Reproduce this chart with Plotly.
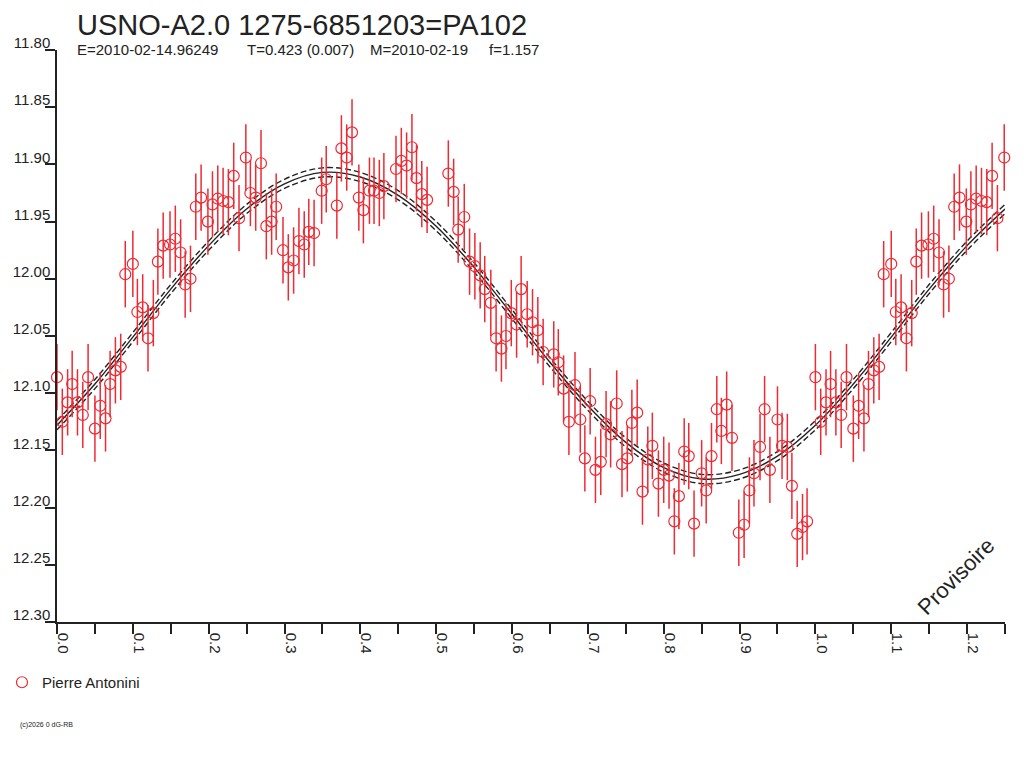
import plotly.graph_objects as go

# observed phase / magnitude (one cycle), error bars are all about the same size
phase = [0.000, 0.007, 0.014, 0.020, 0.027, 0.034, 0.041, 0.050, 0.057, 0.064,
         0.070, 0.077, 0.084, 0.090, 0.100, 0.106, 0.113, 0.120, 0.127, 0.133,
         0.140, 0.149, 0.156, 0.163, 0.169, 0.176, 0.183, 0.190, 0.199, 0.205,
         0.212, 0.219, 0.226, 0.233, 0.240, 0.249, 0.255, 0.262, 0.269, 0.276,
         0.283, 0.289, 0.298, 0.305, 0.312, 0.319, 0.326, 0.332, 0.339, 0.349,
         0.355, 0.369, 0.375, 0.382, 0.389, 0.398, 0.404, 0.412, 0.418, 0.425,
         0.431, 0.447, 0.454, 0.461, 0.468, 0.474, 0.481, 0.488, 0.516, 0.523,
         0.529, 0.537, 0.544, 0.551, 0.558, 0.564, 0.572, 0.579, 0.586, 0.592,
         0.599, 0.606, 0.612, 0.620, 0.627, 0.634, 0.641, 0.655, 0.661, 0.668,
         0.675, 0.683, 0.690, 0.696, 0.703, 0.710, 0.717, 0.724, 0.730, 0.738,
         0.745, 0.752, 0.758, 0.765, 0.772, 0.779, 0.785, 0.793, 0.800, 0.807,
         0.814, 0.820, 0.827, 0.833, 0.840, 0.850, 0.856, 0.863, 0.870, 0.876,
         0.883, 0.890, 0.899, 0.906, 0.913, 0.919, 0.927, 0.933, 0.940, 0.950,
         0.956, 0.963, 0.969, 0.976, 0.983, 0.989]
mag = [12.086, 12.125, 12.108, 12.092, 12.108, 12.119, 12.086, 12.131, 12.111, 12.122,
       12.092, 12.080, 12.077, 11.996, 11.987, 12.029, 12.025, 12.052, 12.030, 11.985,
       11.971, 11.970, 11.965, 11.977, 12.005, 12.000, 11.937, 11.929, 11.950, 11.935,
       11.930, 11.932, 11.933, 11.910, 11.947, 11.894, 11.925, 11.929, 11.899, 11.954,
       11.950, 11.937, 11.975, 11.990, 11.984, 11.967, 11.970, 11.959, 11.960, 11.923,
       11.913, 11.936, 11.886, 11.894, 11.872, 11.929, 11.940, 11.923, 11.923, 11.925,
       11.919, 11.904, 11.897, 11.901, 11.885, 11.912, 11.926, 11.931, 11.908, 11.924,
       11.957, 11.946, 11.985, 11.989, 11.997, 12.009, 12.021, 12.052, 12.061, 12.050,
       12.030, 12.040, 12.009, 12.031, 12.038, 12.045, 12.064, 12.066, 12.073, 12.096,
       12.125, 12.093, 12.123, 12.157, 12.107, 12.167, 12.160, 12.127, 12.136, 12.109,
       12.162, 12.157, 12.126, 12.117, 12.186, 12.158, 12.146, 12.179, 12.167, 12.172,
       12.212, 12.190, 12.151, 12.155, 12.214, 12.170, 12.185, 12.155, 12.114, 12.133,
       12.110, 12.139, 12.222, 12.215, 12.185, 12.170, 12.147, 12.114, 12.167, 12.123,
       12.146, 12.147, 12.181, 12.223, 12.217, 12.212]
mag_err = 0.029

# fitted sine and its band, read every 0.05 in phase
fit_phase = [0.00, 0.05, 0.10, 0.15, 0.20, 0.25, 0.30, 0.35, 0.40, 0.45, 0.50, 0.55, 0.60,
             0.65, 0.70, 0.75, 0.80, 0.85, 0.90, 0.95, 1.00, 1.05, 1.10, 1.15, 1.20, 1.25]
fit_mag = [12.128, 12.092, 12.051, 12.009, 11.971, 11.939, 11.917, 11.907, 11.911, 11.927,
           11.954, 11.990, 12.031, 12.073, 12.111, 12.143, 12.165, 12.175, 12.171, 12.155,
           12.128, 12.092, 12.051, 12.009, 11.971, 11.939]
fit_upper = [12.124, 12.088, 12.047, 12.005, 11.967, 11.935, 11.913, 11.903, 11.907, 11.923,
             11.950, 11.986, 12.027, 12.069, 12.107, 12.139, 12.161, 12.171, 12.167, 12.151,
             12.124, 12.088, 12.047, 12.005, 11.967, 11.935]
fit_lower = [12.132, 12.096, 12.055, 12.013, 11.975, 11.943, 11.921, 11.911, 11.915, 11.931,
             11.958, 11.994, 12.035, 12.077, 12.115, 12.147, 12.169, 12.179, 12.175, 12.159,
             12.132, 12.096, 12.055, 12.013, 11.975, 11.943]

TITLE = "USNO-A2.0 1275-6851203=PA102"
INFO = [("E=2010-02-14.96249", 75), ("T=0.423 (0.007)", 245),
        ("M=2010-02-19", 368), ("f=1.157", 487)]
OBSERVER = "Pierre Antonini"

RED = "#ee2a33"
INK = "#222222"
FONT = "Liberation Sans"

# plot box on the page (the page puts an 8px body margin round the figure)
PLOT_L, PLOT_W = 57, 948
PLOT_B, PLOT_H = 622, 572


def repeat_cycle(ph, mg, cut=0.25):
    # phase plot shows the first quarter again after phase 1
    xs = list(ph) + [p + 1 for p in ph if p < cut]
    ys = list(mg) + [m for p, m in zip(ph, mg) if p < cut]
    return xs, ys


def px_x(px):
    return (px - PLOT_L) / PLOT_W


def px_y(py):
    return (PLOT_B - py) / PLOT_H


def create_figure():
    fig = go.Figure()
    fig.update_layout(width=1024, height=768, paper_bgcolor="white", plot_bgcolor="white",
                      margin=dict(l=49, r=27, t=42, b=154, autoexpand=False),
                      font=dict(family=FONT, size=15, color=INK))
    return fig


def plot_fit(fig):
    fig.add_trace(go.Scatter(x=fit_phase, y=fit_upper, mode="lines", line_shape="spline",
                             line=dict(color=INK, width=1.4, dash="6px,3px"),
                             showlegend=False, hoverinfo="skip"))
    fig.add_trace(go.Scatter(x=fit_phase, y=fit_lower, mode="lines", line_shape="spline",
                             line=dict(color=INK, width=1.4, dash="6px,3px"),
                             showlegend=False, hoverinfo="skip"))
    fig.add_trace(go.Scatter(x=fit_phase, y=fit_mag, mode="lines", line_shape="spline",
                             line=dict(color=INK, width=1.4),
                             showlegend=False, hoverinfo="skip"))


def plot_points(fig):
    xs, ys = repeat_cycle(phase, mag)
    fig.add_trace(go.Scatter(name=OBSERVER, x=xs, y=ys, mode="markers", cliponaxis=False,
                             marker=dict(symbol="circle-open", size=11, color=RED,
                                         line=dict(width=1.2, color=RED)),
                             error_y=dict(type="constant", value=mag_err, color=RED,
                                          thickness=1.5, width=0)))


def touch_up(fig):
    fig.update_xaxes(range=[0, 1.25], dtick=0.1, tick0=0, tickformat=".1f", automargin=False,
                     showline=True, linecolor=INK, linewidth=1.5, mirror=False,
                     ticks="outside", ticklen=10, tickcolor=INK, tickwidth=1.5,
                     tickangle=90, ticklabelshift=6, ticklabelstandoff=-4,
                     showgrid=False, zeroline=False,
                     minor=dict(dtick=0.05, ticks="outside", ticklen=10,
                                tickcolor=INK, tickwidth=1.5),
                     tickfont=dict(size=15, color=INK))
    fig.update_yaxes(range=[12.30, 11.80], dtick=0.05, tick0=11.80, tickformat=".2f",
                     automargin=False,
                     showline=True, linecolor=INK, linewidth=1.5,
                     ticks="outside", ticklen=10, tickcolor=INK, tickwidth=1.5,
                     ticklabelstandoff=-8, ticklabelshift=7,
                     showgrid=False, zeroline=False,
                     tickfont=dict(size=15, color=INK))

    fig.add_annotation(text=TITLE, xref="paper", yref="paper", x=px_x(75), y=px_y(25),
                       xanchor="left", yanchor="middle", showarrow=False,
                       font=dict(size=29, color=INK))
    for txt, px in INFO:
        fig.add_annotation(text=txt, xref="paper", yref="paper", x=px_x(px), y=px_y(49),
                           xanchor="left", yanchor="middle", showarrow=False,
                           font=dict(size=15, color=INK))

    fig.add_annotation(text="Provisoire", xref="x", yref="y", x=1.185, y=12.260,
                       textangle=-45, showarrow=False, font=dict(size=22, color=INK))
    fig.add_annotation(text="(c)2026 0 dG-RB", xref="paper", yref="paper", x=px_x(18),
                       y=px_y(725), xanchor="left", yanchor="middle", showarrow=False,
                       font=dict(size=7, color=INK))

    fig.update_layout(showlegend=True,
                      legend=dict(x=px_x(2), y=px_y(666), xanchor="left", yanchor="top",
                                  bgcolor="rgba(0,0,0,0)", font=dict(size=15, color=INK)))


fig = create_figure()
plot_fit(fig)
plot_points(fig)
touch_up(fig)
fig.write_html("out.html")
